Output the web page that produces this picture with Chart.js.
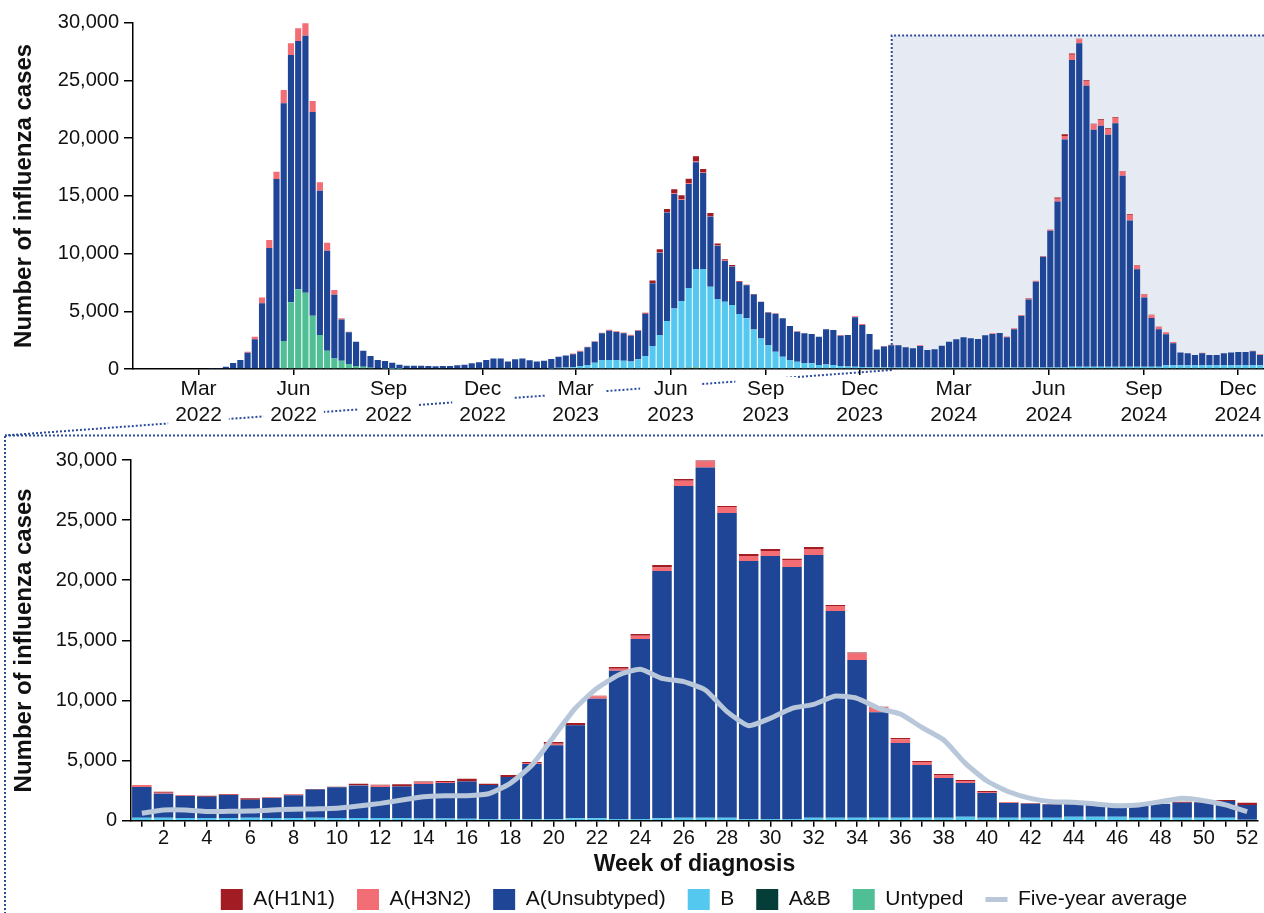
<!DOCTYPE html>
<html>
<head>
<meta charset="utf-8">
<script src="https://cdn.jsdelivr.net/npm/chart.js@4.4.1/dist/chart.umd.min.js"></script>
<style>
html,body{margin:0;padding:0;background:#fff;overflow:hidden;width:1264px;height:913px;}
#cTop{position:absolute;left:0;top:0;}
#cBot{position:absolute;left:0;top:436px;}
</style>
</head>
<body>
<canvas id="cTop" width="1264" height="437"></canvas>
<canvas id="cBot" width="1408" height="484"></canvas>
<script>
// ================= DATA =================
// ---- Top panel: weekly notifications, week 1 2022 .. week 52 2024 (156 weeks) ----
const topH1N1 = [
 0,0,0,0,0,0,0,0,0,0,0,0,0,
 0,0,0,0,0,0,0,0,0,0,0,0,0,
 0,0,0,0,0,0,0,0,0,0,0,0,0,
 0,0,0,0,0,0,0,0,0,0,0,0,0,
 0,0,0,0,0,0,0,0,0,0,0,0,0,
 0,0,0,0,0,100,200,250,260,350,350,400,460,
 290,250,150,100,80,60,50,40,30,30,0,0,0,
 0,0,0,0,0,0,0,0,0,0,0,0,0,
 0,0,0,0,0,0,0,0,0,0,0,0,0,
 0,0,0,0,0,30,30,0,0,0,100,150,120,
 60,60,60,60,60,60,40,60,40,40,40,30,0,
 0,0,0,0,0,0,0,0,0,0,0,0,0
];
const topH3N2 = [
 0,0,0,0,0,0,0,0,0,0,0,0,0,
 0,0,100,230,500,700,630,1150,1010,1100,1070,960,720,
 690,400,100,50,0,0,0,0,0,0,0,0,0,
 0,0,0,0,0,0,0,0,0,0,0,0,0,
 0,0,0,0,0,0,0,0,80,80,40,40,60,
 80,80,80,80,60,20,40,50,60,60,60,60,60,
 60,50,50,40,30,0,0,0,0,0,30,0,0,
 40,0,0,0,0,0,60,0,100,80,0,0,50,
 60,0,0,0,50,0,0,0,0,0,0,0,0,
 0,60,0,80,80,60,80,80,60,100,250,300,450,
 350,420,450,500,500,460,380,480,320,250,230,190,170,
 100,0,0,0,50,0,0,0,0,0,0,60,60
];
const topUnsub = [
 0,0,0,0,0,0,0,0,0,0,40,90,200,
 520,780,1400,2570,5690,10480,16460,20590,21420,21510,22270,17640,12510,
 8660,5520,3570,2750,2110,1390,1030,720,650,520,350,280,280,
 290,260,230,260,260,320,375,490,580,780,920,920,660,
 840,900,750,660,720,820,970,1060,1120,1250,1530,1820,2310,
 2540,2420,2370,2230,2480,3630,5430,7140,9390,9920,8760,9010,9250,
 8310,6080,4610,3530,3350,2780,2860,3040,3150,2800,3290,3320,2940,
 2600,2570,2540,2450,3040,3030,2630,2730,4280,3630,2880,1580,1830,
 1930,1930,1760,1670,1880,1530,1600,1900,2250,2450,2620,2540,2480,
 2800,2910,3000,2620,3320,4470,5910,7440,9610,11860,14380,19770,26570,
 28010,24340,20530,20870,20090,21100,16540,12670,8450,6000,4220,3240,2680,
 1900,1090,1030,880,1030,880,880,1030,1090,1140,1140,1200,880
];
const topB = [
 0,0,0,0,0,0,0,0,0,0,0,0,0,
 0,0,0,0,0,0,0,0,0,0,0,0,0,
 0,0,0,0,0,0,0,0,0,0,0,0,0,
 0,0,0,0,0,0,0,0,0,0,0,0,0,
 0,0,0,0,0,50,100,120,150,250,350,550,780,
 780,780,720,660,840,1130,1990,2940,4160,5250,5890,6900,8490,
 8580,7130,6060,5830,5540,4760,4390,3420,2650,2080,1500,1070,780,
 630,520,490,350,400,350,260,220,200,180,150,120,120,
 120,120,120,120,120,120,120,120,120,120,120,120,120,
 120,120,120,120,120,120,120,120,120,120,120,120,200,
 200,200,200,200,200,200,200,200,200,200,200,200,330,
 330,330,330,330,330,330,330,330,330,330,330,330,330
];
const topAB = [
 0,0,0,0,0,0,0,0,0,0,0,0,0,
 0,0,0,0,0,0,0,0,0,0,0,0,0,
 0,0,0,0,0,0,0,0,0,0,0,0,0,
 0,0,0,0,0,0,0,0,0,0,0,0,0,
 0,0,0,0,0,0,0,0,0,0,0,0,0,
 0,0,0,0,0,0,0,0,0,0,0,20,20,
 0,0,0,0,0,0,0,0,0,0,0,0,0,
 0,0,0,0,0,0,0,0,0,0,0,0,0,
 0,0,0,0,0,0,0,0,0,0,0,0,0,
 0,0,0,0,0,0,0,0,0,0,0,0,0,
 0,0,0,0,0,0,0,0,0,0,0,0,0,
 0,0,0,0,0,0,0,0,0,0,0,0,0
];
const topUntyped = [
 0,0,0,0,0,0,0,0,0,0,0,0,0,
 0,0,0,0,0,0,0,2430,5780,6900,6610,4620,2940,
 1590,920,720,430,260,200,100,60,40,30,20,0,0,
 0,0,0,0,0,0,0,0,0,0,0,0,0,
 0,0,0,0,0,0,0,0,0,0,0,0,0,
 0,0,0,0,0,0,0,0,0,0,0,100,150,
 80,0,0,0,0,0,0,0,0,0,0,0,0,
 0,0,0,0,0,0,0,0,0,0,0,0,0,
 0,0,0,0,0,0,0,0,0,0,0,0,0,
 0,0,0,0,0,0,0,0,0,0,0,0,0,
 0,0,0,0,0,0,0,0,0,0,0,0,0,
 0,0,0,0,0,0,0,0,0,0,0,0,0
];
const topSeriesStart = '2022-01-01';
const monthTickDates = ['2022-03-01','2022-06-01','2022-09-01','2022-12-01','2023-03-01','2023-06-01',
                        '2023-09-01','2023-12-01','2024-03-01','2024-06-01','2024-09-01','2024-12-01'];
const monthTickLabels = [['Mar','2022'],['Jun','2022'],['Sep','2022'],['Dec','2022'],['Mar','2023'],['Jun','2023'],
                         ['Sep','2023'],['Dec','2023'],['Mar','2024'],['Jun','2024'],['Sep','2024'],['Dec','2024']];
const zoomStartDate = '2024-01-01';

// ---- Bottom panel: 2024 by week of diagnosis ----
const weekLabels = [1,2,3,4,5,6,7,8,9,10,11,12,13,14,15,16,17,18,19,20,21,22,23,24,25,26,
                    27,28,29,30,31,32,33,34,35,36,37,38,39,40,41,42,43,44,45,46,47,48,49,50,51,52];
const botH1N1 = [0,80,50,80,60,110,40,20,50,50,120,80,190,80,80,220,110,170,80,140,190,50,140,140,220,140,
                 80,80,170,170,110,170,80,80,30,110,80,80,80,80,20,30,50,30,20,20,20,20,80,30,80,190];
const botH3N2 = [170,80,30,10,20,0,10,90,0,0,40,110,0,110,80,0,0,0,80,140,0,200,170,280,280,440,
                 500,500,420,420,580,500,420,530,440,300,250,250,170,80,60,30,0,0,0,0,0,0,0,0,0,0];
const botUnsub = [2550,2000,1830,1760,1910,1500,1660,1880,2340,2550,2690,2580,2640,2880,2960,3110,2840,3480,4590,6140,7740,9950,12320,14960,20570,27590,
                  29120,25340,21440,21860,20950,21840,17190,13120,8760,6220,4380,3300,2810,2060,1230,1160,1090,1040,1030,950,1030,1150,1250,1270,1390,1230];
const botB = [250,250,230,230,230,250,230,230,250,230,230,230,200,180,180,160,130,150,130,130,200,200,150,150,200,250,
              250,250,150,150,150,250,250,250,250,250,250,250,330,250,250,250,250,330,330,330,250,250,250,250,250,80];
const botAB = [0,0,0,0,0,0,0,0,0,0,0,0,0,0,0,0,0,0,0,0,0,0,0,0,0,0,
               0,0,0,0,0,0,0,0,0,0,0,0,0,0,0,0,0,0,0,0,0,0,0,0,0,0];
const botUntyped = [0,0,0,0,0,0,0,0,0,0,0,0,0,0,0,0,0,0,0,0,0,0,0,0,0,0,
                    0,0,0,0,0,0,0,0,0,0,0,0,0,0,0,0,0,0,0,0,0,0,0,0,0,0];
const fiveYearAvg = [620,890,890,760,780,800,890,950,980,1030,1220,1440,1720,2000,2080,2080,2240,3110,4630,6990,9350,11010,12120,12590,11840,11560,
                     10870,9070,7900,8520,9350,9680,10370,10180,9350,8870,7750,6710,4770,3300,2410,1860,1580,1530,1390,1250,1310,1580,1860,1660,1310,750];
const yTicksMax = 30000, yTicksStep = 5000;

// ================= STYLE =================
const FONT = "'Liberation Sans', Arial, Helvetica, sans-serif";
Chart.defaults.font.family = FONT;
Chart.defaults.color = '#111';
const C = {h1n1:'#a11c23', h3n2:'#f26d74', unsub:'#1f4596', b:'#55c8ef', ab:'#053d38', untyped:'#50bf95', avg:'#b8c7d9'};
const DOT = '#2b4c9b';
const TOP_TICK_FONT = 21;

const dayMs = 86400000;
const weekPos = d => ((Date.parse(d) - Date.parse(topSeriesStart)) / dayMs - 1.5) / 7;
const monthTickPos = monthTickDates.map(weekPos);

const axisGrid = (len) => ({display:true, drawOnChartArea:false, drawTicks:true, tickLength:len, color:'#000', lineWidth:1.5, offset:false});
const axisBorder = {display:true, color:'#000', width:1.5};
const yTitle = {display:true, text:'Number of influenza cases', font:{size:24, weight:'bold'}, color:'#111', padding:{top:10, bottom:0}};

// ================= TOP CHART =================
const zoomPlugin = {
  id:'zoomBox',
  beforeDraw(chart){
    const {ctx, chartArea:a, scales:{x, y}} = chart;
    const x0 = x.getPixelForValue(weekPos(zoomStartDate));
    const y0 = y.getPixelForValue(28900);
    ctx.save();
    ctx.fillStyle = '#e6eaf3';
    ctx.fillRect(x0, y0, a.right - x0, a.bottom - y0);
    ctx.setLineDash([2,2]);
    ctx.strokeStyle = DOT; ctx.lineWidth = 2;
    ctx.beginPath();
    ctx.moveTo(x0, a.bottom); ctx.lineTo(x0, y0); ctx.lineTo(a.right, y0);
    ctx.stroke();
    // connector to the lower panel, interrupted behind the month labels
    ctx.save();
    ctx.font = TOP_TICK_FONT + 'px ' + FONT;
    ctx.beginPath();
    ctx.rect(0, 0, chart.width, chart.height);
    x.ticks.forEach((t, i) => {
      const px = x.getPixelForTick(i);
      const w = Math.max(...monthTickLabels[i].map(s => ctx.measureText(s).width));
      ctx.rect(px - w / 2 - 7, a.bottom + 8, w + 14, 424 - a.bottom);
    });
    ctx.clip('evenodd');
    ctx.beginPath();
    ctx.moveTo(x0, a.bottom + 1); ctx.lineTo(5, 435.5);
    ctx.stroke();
    ctx.restore();
    ctx.beginPath();
    ctx.moveTo(5, 435.5); ctx.lineTo(chart.width, 435.5);
    ctx.stroke();
    ctx.restore();
  }
};

const topSeries = [
  ['Untyped', topUntyped, C.untyped],
  ['A&B', topAB, C.ab],
  ['B', topB, C.b],
  ['A(Unsubtyped)', topUnsub, C.unsub],
  ['A(H3N2)', topH3N2, C.h3n2],
  ['A(H1N1)', topH1N1, C.h1n1]
];

new Chart(document.getElementById('cTop'), {
  type:'bar',
  data:{ datasets: topSeries.map(([label, arr, color]) => ({
    label, data: arr.map((v, i) => ({x:i, y:v})), backgroundColor: color,
    borderWidth:0, barPercentage:0.85, categoryPercentage:1
  }))},
  options:{
    responsive:false, animation:false, locale:'en-US',
    layout:{padding:{top:22.7, left:0, right:0, bottom:0}},
    plugins:{legend:{display:false}, tooltip:{enabled:false}},
    scales:{
      x:{type:'linear', min:-0.843, max:155.55, stacked:true, offset:false,
         afterBuildTicks: s => { s.ticks = monthTickPos.map(v => ({value:v})); },
         afterFit: s => { s.height = 68; },
         grid: axisGrid(6), border: axisBorder,
         ticks:{autoSkip:false, maxRotation:0, minRotation:0, padding:2, font:{size:TOP_TICK_FONT}, color:'#111',
                callback:(v, i) => monthTickLabels[i]}
      },
      y:{stacked:true, min:0, max:yTicksMax,
         afterFit: s => { s.width = 133; },
         grid: axisGrid(9), border: axisBorder,
         ticks:{stepSize:yTicksStep, font:{size:20}, padding:5, color:'#111'},
         title: yTitle
      }
    }
  },
  plugins:[zoomPlugin]
});

// ================= BOTTOM CHART =================
const frameLeft = {
  id:'frameLeft',
  beforeDraw(chart){
    const ctx = chart.ctx;
    ctx.save();
    ctx.setLineDash([2,2]); ctx.strokeStyle = DOT; ctx.lineWidth = 2;
    ctx.beginPath(); ctx.moveTo(5, 0); ctx.lineTo(5, chart.height); ctx.stroke();
    ctx.restore();
  }
};

const botSeries = [
  ['Untyped', botUntyped, C.untyped],
  ['A&B', botAB, C.ab],
  ['B', botB, C.b],
  ['A(Unsubtyped)', botUnsub, C.unsub],
  ['A(H3N2)', botH3N2, C.h3n2],
  ['A(H1N1)', botH1N1, C.h1n1]
];

new Chart(document.getElementById('cBot'), {
  type:'bar',
  data:{
    labels: weekLabels.map(String),
    datasets:[
      {type:'line', label:'Five-year average', data: fiveYearAvg, borderColor:C.avg, backgroundColor:C.avg,
       borderWidth:5, pointRadius:0, tension:0.18, order:0, pointStyle:'line', yAxisID:'y'},
      ...botSeries.map(([label, arr, color]) => ({
        label, data: arr, backgroundColor: color, borderWidth:0, order:1, pointStyle:'rect',
        barPercentage:0.9, categoryPercentage:1, yAxisID:'y'
      }))
    ]
  },
  options:{
    responsive:false, animation:false, locale:'en-US',
    layout:{padding:{top:24, left:0, right:0, bottom:0}},
    plugins:{
      tooltip:{enabled:false},
      legend:{position:'bottom', align:'center', reverse:true,
        labels:{usePointStyle:true, pointStyleWidth:22, boxWidth:22, boxHeight:22, padding:22,
                font:{size:21}, color:'#111'}}
    },
    scales:{
      x:{type:'category', offset:true, stacked:true,
         afterFit: s => { s.height = 46.3; },
         grid: axisGrid(6), border: axisBorder,
         ticks:{autoSkip:false, maxRotation:0, minRotation:0, padding:0, font:{size:20}, color:'#111',
                callback:(v, i) => (weekLabels[i] % 2 === 0 ? String(weekLabels[i]) : '')},
         title:{display:true, text:'Week of diagnosis', font:{size:23, weight:'bold'}, color:'#111', padding:{top:0, bottom:-11}}
      },
      y:{stacked:true, min:0, max:yTicksMax,
         afterFit: s => { s.width = 131; },
         grid: axisGrid(9), border: axisBorder,
         ticks:{stepSize:yTicksStep, font:{size:20}, padding:5, color:'#111'},
         title: yTitle
      },
      yR:{position:'right', display:true, grid:{display:false}, border:{display:false}, ticks:{display:false},
          afterFit: s => { s.width = 150; }}
    }
  },
  plugins:[frameLeft]
});
</script>
</body>
</html>
